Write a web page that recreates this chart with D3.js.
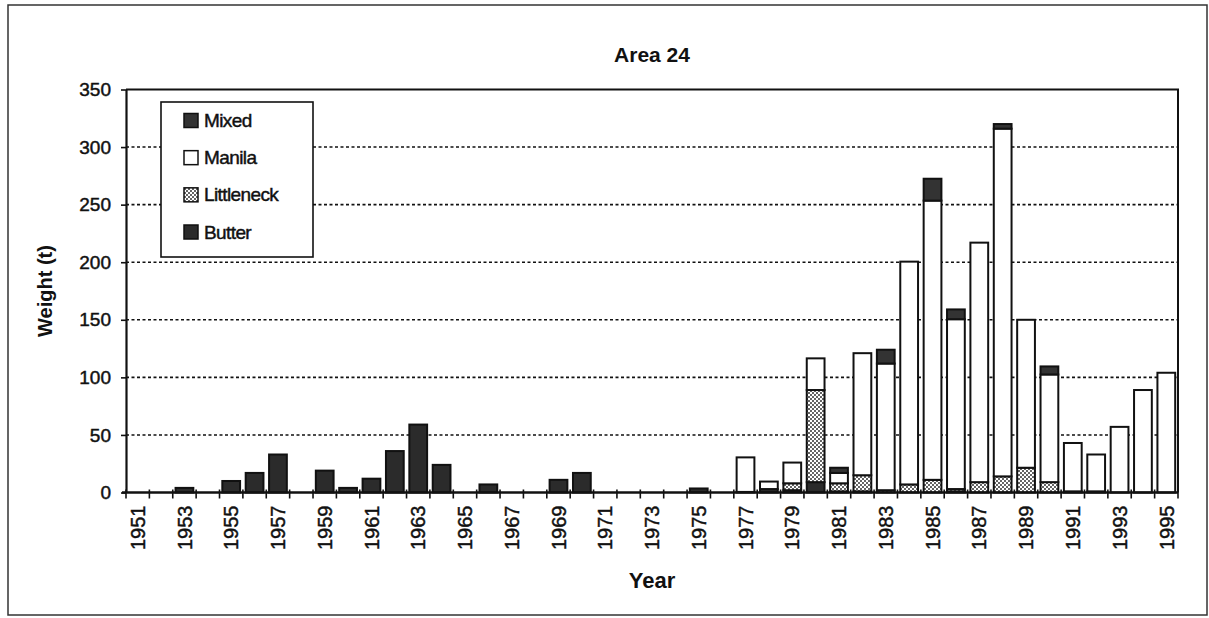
<!DOCTYPE html>
<meta charset="utf-8">
<script src="https://d3js.org/d3.v7.min.js"></script>
<style>
  body { margin: 0; background: #fff; }
  text { font-family: "Liberation Sans", Arial, sans-serif; fill: #111; }
  .heavy { stroke: #111; stroke-width: 0.45px; }
</style>
<div id="chart"></div>
<script>

// years 1951..1995
var years = d3.range(1951, 1996);

// values (tonnes)
var butter = [0, 0, 4, 0, 10, 17, 33, 0, 19, 4,
              12, 36, 59, 24, 0, 7, 0, 0, 11, 17,
              0, 0, 0, 0, 3.5, 0, 0.5, 3, 2, 9,
              1, 1, 0, 0, 0, 1, 0, 0, 0, 0,
              1, 1, 0, 0, 0];
var littleneck = [0, 0, 0, 0, 0, 0, 0, 0, 0, 0,
                  0, 0, 0, 0, 0, 0, 0, 0, 0, 0,
                  0, 0, 0, 0, 0, 0, 0, 0, 6, 80,
                  7, 14, 2, 7, 11, 2, 9, 14, 21.5, 9,
                  0, 0, 0, 0, 0];
var manila = [0, 0, 0, 0, 0, 0, 0, 0, 0, 0,
              0, 0, 0, 0, 0, 0, 0, 0, 0, 0,
              0, 0, 0, 0, 0, 0, 30, 6.5, 18, 27.5,
              9, 106, 110, 193.5, 242.5, 147.5, 208, 302, 128.5, 93.5,
              42, 32, 57, 89, 104];
var mixed = [0, 0, 0, 0, 0, 0, 0, 0, 0, 0,
             0, 0, 0, 0, 0, 0, 0, 0, 0, 0,
             0, 0, 0, 0, 0, 0, 0, 0, 0, 0,
             4.5, 0, 12, 0, 19, 8.5, 0, 4, 0, 7,
             0, 0, 0, 0, 0];
var yTicks = [0, 50, 100, 150, 200, 250, 300, 350];
var legendNames = ["Mixed", "Manila", "Littleneck", "Butter"];

var W = 1209, H = 618;
var pLeft = 126, pRight = 1178, pTop = 89.5, pBottom = 492.5;

var svg = d3.select("#chart")
  .append("svg")
    .attr("width", W)
    .attr("height", H);

// stipple pattern for littleneck
var defs = svg.append("defs");
var pat = defs.append("pattern")
    .attr("id", "dots")
    .attr("patternUnits", "userSpaceOnUse")
    .attr("width", 4)
    .attr("height", 4);
pat.append("rect").attr("width", 4).attr("height", 4).attr("fill", "#fff");
pat.append("circle").attr("cx", 1).attr("cy", 1).attr("r", 0.95).attr("fill", "#222");
pat.append("circle").attr("cx", 3).attr("cy", 3).attr("r", 0.95).attr("fill", "#222");

var fills = {butter: "#2b2b2b", littleneck: "url(#dots)", manila: "#fff", mixed: "#333"};

// outer frame
svg.append("rect")
  .attr("x", 8).attr("y", 5)
  .attr("width", 1199).attr("height", 610)
  .attr("fill", "none")
  .attr("stroke", "#333")
  .attr("stroke-width", 1.5);

var x = d3.scaleBand()
  .domain(years)
  .range([pLeft, pRight])
  .paddingInner(0.24)
  .paddingOuter(0.12);

var y = d3.scaleLinear()
  .domain([0, 350])
  .range([pBottom, pTop]);

// gridlines
svg.append("g")
  .selectAll("line")
  .data(yTicks.filter(function(d) { return d > 0 && d < 350; }))
  .enter()
  .append("line")
    .attr("x1", pLeft).attr("x2", pRight)
    .attr("y1", function(d) { return y(d); })
    .attr("y2", function(d) { return y(d); })
    .attr("stroke", "#111")
    .attr("stroke-width", 1.6)
    .attr("stroke-dasharray", "3,2.5");

// legend (drawn over grid)
var legend = svg.append("g");
legend.append("rect")
  .attr("x", 161).attr("y", 102)
  .attr("width", 152).attr("height", 155)
  .attr("fill", "#fff")
  .attr("stroke", "#111")
  .attr("stroke-width", 1.6);

var legendKeys = ["mixed", "manila", "littleneck", "butter"];
var ly = d3.scalePoint().domain(legendKeys).range([120.5, 232]);
legend.selectAll("rect.sw")
  .data(legendKeys)
  .enter()
  .append("rect")
    .attr("class", "sw")
    .attr("x", 184)
    .attr("y", function(d) { return ly(d) - 7; })
    .attr("width", 14).attr("height", 14)
    .attr("fill", function(d) { return fills[d]; })
    .attr("stroke", "#111")
    .attr("stroke-width", 1.5);
legend.selectAll("text")
  .data(legendKeys)
  .enter()
  .append("text")
    .attr("class", "heavy")
    .attr("x", 204)
    .attr("y", function(d) { return ly(d); })
    .attr("dy", "0.35em")
    .style("font-size", "19px")
    .style("letter-spacing", "-0.6px")
    .text(function(d, i) { return legendNames[i]; });

// stacked bars
var rows = years.map(function(yr, i) {
  return {year: yr, butter: butter[i], littleneck: littleneck[i], manila: manila[i], mixed: mixed[i]};
});
var series = d3.stack().keys(["butter", "littleneck", "manila", "mixed"])(rows);

svg.append("g")
  .selectAll("g")
  .data(series)
  .enter()
  .append("g")
    .attr("fill", function(s) { return fills[s.key]; })
  .selectAll("rect")
  .data(function(s) { return s.filter(function(d) { return d[1] - d[0] > 0; }); })
  .enter()
  .append("rect")
    .attr("x", function(d) { return x(d.data.year); })
    .attr("y", function(d) { return y(d[1]); })
    .attr("width", x.bandwidth())
    .attr("height", function(d) { return y(d[0]) - y(d[1]); })
    .attr("stroke", "#111")
    .attr("stroke-width", 2);

// plot border (top + right)
svg.append("path")
  .attr("d", "M" + pLeft + "," + pTop + "H" + pRight + "V" + pBottom)
  .attr("fill", "none")
  .attr("stroke", "#111")
  .attr("stroke-width", 2);

// y axis
var yAxis = svg.append("g")
  .attr("transform", "translate(" + pLeft + ",0)")
  .call(d3.axisLeft(y).tickValues(yTicks).tickSize(5).tickPadding(10).tickSizeOuter(0));
yAxis.select(".domain").attr("stroke", "#111").attr("stroke-width", 2.2);
yAxis.selectAll(".tick line").attr("stroke", "#111").attr("stroke-width", 1.6);
yAxis.selectAll("text")
  .attr("class", "heavy")
  .style("font-size", "19px")
  .style("font-family", "'Liberation Sans', Arial, sans-serif")
  .attr("fill", "#111");

// x axis line + ticks at category edges
var edge = d3.scaleLinear().domain([0, years.length]).range([pLeft, pRight]);
svg.append("line")
  .attr("x1", pLeft - 4).attr("x2", pRight)
  .attr("y1", pBottom).attr("y2", pBottom)
  .attr("stroke", "#111").attr("stroke-width", 2.4);
svg.append("g")
  .selectAll("line")
  .data(d3.range(years.length + 1))
  .enter()
  .append("line")
    .attr("x1", function(d) { return edge(d); })
    .attr("x2", function(d) { return edge(d); })
    .attr("y1", pBottom - 3)
    .attr("y2", pBottom + 6)
    .attr("stroke", "#111")
    .attr("stroke-width", 1.6);

// x labels (every other year, rotated)
var xAxis = svg.append("g")
  .attr("transform", "translate(0," + pBottom + ")")
  .call(d3.axisBottom(x).tickValues(years.filter(function(d) { return d % 2 === 1; })).tickSize(0));
xAxis.select(".domain").remove();
xAxis.selectAll("text")
  .attr("class", "heavy")
  .attr("transform", "rotate(-90)")
  .attr("text-anchor", "end")
  .attr("x", -13)
  .attr("y", 0)
  .attr("dy", "0.36em")
  .style("font-size", "20px")
  .style("font-family", "'Liberation Sans', Arial, sans-serif")
  .attr("fill", "#111");

// titles
svg.append("text")
  .attr("x", 652).attr("y", 62)
  .attr("text-anchor", "middle")
  .style("font-size", "21px")
  .style("font-weight", "bold")
  .text("Area 24");

svg.append("text")
  .attr("transform", "rotate(-90)")
  .attr("x", -291).attr("y", 52)
  .attr("text-anchor", "middle")
  .style("font-size", "20px")
  .style("font-weight", "bold")
  .text("Weight (t)");

svg.append("text")
  .attr("x", 652).attr("y", 588)
  .attr("text-anchor", "middle")
  .style("font-size", "22px")
  .style("font-weight", "bold")
  .text("Year");

</script>
